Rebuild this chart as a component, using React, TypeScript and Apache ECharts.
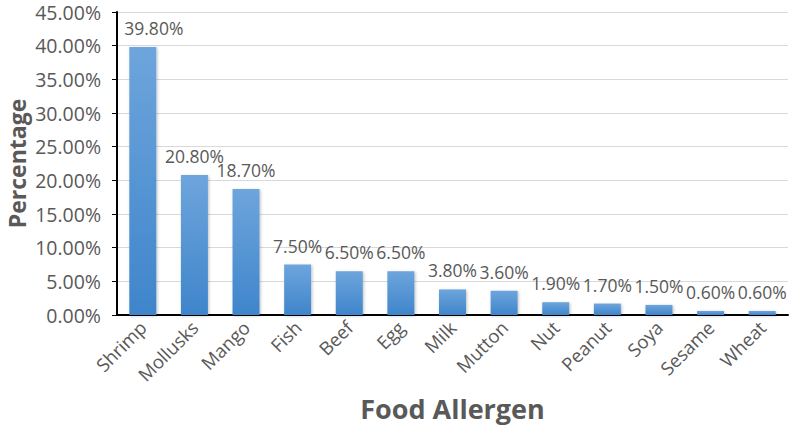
import React, { useEffect, useRef } from "react";
import * as echarts from "echarts";

const categories = ["Shrimp", "Mollusks", "Mango", "Fish", "Beef", "Egg", "Milk", "Mutton", "Nut", "Peanut", "Soya", "Sesame", "Wheat"];
const values = [39.8, 20.8, 18.7, 7.5, 6.5, 6.5, 3.8, 3.6, 1.9, 1.7, 1.5, 0.6, 0.6];
const yTicks = [0, 5, 10, 15, 20, 25, 30, 35, 40, 45];

const FONT = "'Open Sans', 'Noto Sans', sans-serif";

export default function App() {
  const ref = useRef<HTMLDivElement>(null);
  useEffect(() => {
    if (!ref.current) return;
    const chart = echarts.init(ref.current, null, { renderer: "svg" });
    const seriesData = values.map((v, i) => (i === 0 ? { value: v, label: { offset: [11, 0] } } : { value: v }));
    chart.setOption({
      animation: false,
      backgroundColor: "#ffffff",
      grid: { left: 117, right: 4, top: 12, bottom: 119, containLabel: false, outerBoundsMode: "none" },
      xAxis: {
        type: "category",
        data: categories,
        name: "Food Allergen",
        nameLocation: "middle",
        nameGap: 80,
        nameTextStyle: { fontFamily: FONT, fontSize: 27, fontWeight: "bold", color: "#595959" },
        axisLine: { lineStyle: { color: "#000", width: 2 } },
        axisTick: { show: false },
        axisLabel: { rotate: 45, fontFamily: FONT, fontSize: 18.5, color: "#595959", margin: 9, interval: 0 },
      },
      yAxis: {
        type: "value",
        min: yTicks[0],
        max: yTicks[yTicks.length - 1],
        interval: 5,
        name: "Percentage",
        nameLocation: "middle",
        nameGap: 88,
        nameMoveOverlap: false,
        nameTextStyle: { fontFamily: FONT, fontSize: 23, lineHeight: 24, fontWeight: "bold", color: "#595959" },
        axisLine: { show: true, lineStyle: { color: "#000", width: 2 } },
        axisTick: { show: true, length: 5, lineStyle: { color: "#000" } },
        axisLabel: { fontFamily: FONT, fontSize: 19.5, lineHeight: 20, color: "#595959", margin: 16, formatter: (v: number) => v.toFixed(2) + "%" },
        splitLine: { lineStyle: { color: "#d9d9d9", width: 1 } },
      },
      series: [
        {
          type: "bar",
          data: seriesData,
          barWidth: 27,
          itemStyle: {
            color: new echarts.graphic.LinearGradient(0, 0, 0, 1, [
              { offset: 0, color: "#6ea5dc" },
              { offset: 1, color: "#3f85cb" },
            ]),
            shadowColor: "rgba(0,0,0,0.25)",
            shadowBlur: 3,
            shadowOffsetX: 1,
            shadowOffsetY: 1,
          },
          label: {
            show: true,
            position: "top",
            distance: 10,
            fontFamily: FONT,
            fontSize: 17.5,
            color: "#595959",
            formatter: (p: any) => p.value.toFixed(2) + "%",
          },
        },
      ],
    });
    return () => chart.dispose();
  }, []);
  return <div ref={ref} style={{ width: 792, height: 434, position: "absolute", left: 0, top: 0 }} />;
}
